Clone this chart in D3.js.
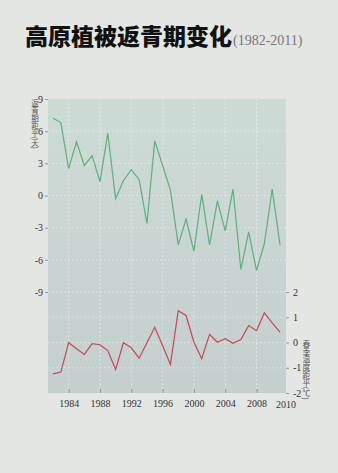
<!DOCTYPE html>
<html><head><meta charset="utf-8">
<script src="https://cdn.jsdelivr.net/npm/d3@7"></script>
<style>
html,body{margin:0;padding:0;background:#e4e6e3;}
svg{display:block;}
</style></head>
<body>
<script>
const years = d3.range(1982, 2012);
const greenupAnomaly = [7.2, 6.8, 2.5, 5.0, 2.8, 3.7, 1.3, 5.8, -0.3, 1.4, 2.4, 1.5, -2.6, 5.1, 2.8, 0.5, -4.6, -2.2, -5.2, 0.1, -4.6, -0.5, -3.3, 0.6, -6.9, -3.4, -7.0, -4.5, 0.6, -4.6];
const springTempAnomaly = [-1.24, -1.17, 0.0, -0.25, -0.47, -0.05, -0.09, -0.32, -1.07, -0.01, -0.21, -0.62, -0.01, 0.60, -0.12, -0.87, 1.26, 1.07, 0.01, -0.64, 0.32, 0.01, 0.15, -0.03, 0.12, 0.67, 0.47, 1.17, 0.78, 0.41];
const xTicks = [1984, 1988, 1992, 1996, 2000, 2004, 2008];
const leftTicks = [9, 6, 3, 0, -3, -6, -9];
const rightTicks = [2, 1, 0, -1, -2];
const titleMain = "高原植被返青期变化";
const titleSub = "(1982-2011)";
const leftLabel = "返青期距平(天)";
const rightLabel = "春季温度距平(℃)";

const W = 338, H = 473;
const plot = {l: 48, r: 286, t: 99, b: 393};

const svg = d3.select("body").append("svg").attr("width", W).attr("height", H);
const defs = svg.append("defs");
const grad = defs.append("linearGradient").attr("id", "bg").attr("x1", 0).attr("y1", 0).attr("x2", 0).attr("y2", 1);
grad.append("stop").attr("offset", "0%").attr("stop-color", "#cddbd5");
grad.append("stop").attr("offset", "100%").attr("stop-color", "#c4cfcf");

const x = d3.scaleLinear().domain([1982, 2011]).range([53, 280]);
const yL = d3.scaleLinear().domain([-9, 9]).range([292, 99]);
const yR = d3.scaleLinear().domain([-2, 2]).range([393, 292]);

svg.append("rect").attr("x", plot.l).attr("y", plot.t).attr("width", plot.r - plot.l).attr("height", plot.b - plot.t).attr("fill", "url(#bg)");

// grid
const grid = svg.append("g").attr("stroke", "#ffffff").attr("stroke-opacity", 0.55).attr("stroke-width", 0.7).attr("stroke-dasharray", "2,2");
grid.selectAll(".gl").data(leftTicks.filter(d => d < 9)).join("line").attr("class", "gl")
  .attr("x1", plot.l).attr("x2", plot.r).attr("y1", d => yL(d)).attr("y2", d => yL(d));
grid.selectAll(".gr").data(rightTicks.filter(d => d > -2 && d < 2)).join("line").attr("class", "gr")
  .attr("x1", plot.l).attr("x2", plot.r).attr("y1", d => yR(d)).attr("y2", d => yR(d));
grid.selectAll(".gx").data(xTicks).join("line").attr("class", "gx")
  .attr("x1", d => x(d)).attr("x2", d => x(d)).attr("y1", plot.t).attr("y2", plot.b);

// axes
const axisFont = "'Liberation Serif', 'DejaVu Serif', serif";
const fmt = d => String(d);
const gL = svg.append("g").attr("transform", `translate(${plot.l},0)`)
  .call(d3.axisLeft(yL).tickValues(leftTicks).tickFormat(fmt).tickSize(3).tickPadding(2));
const gR = svg.append("g").attr("transform", `translate(${plot.r},0)`)
  .call(d3.axisRight(yR).tickValues(rightTicks).tickFormat(fmt).tickSize(3).tickPadding(4));
const gX = svg.append("g").attr("transform", `translate(0,${plot.b})`)
  .call(d3.axisBottom(x).tickValues(xTicks).tickFormat(fmt).tickSize(-4).tickPadding(7));
[gL, gR, gX].forEach(g => {
  g.select(".domain").remove();
  g.selectAll("line").attr("stroke", "#777").attr("stroke-width", 0.7);
  g.selectAll("text").attr("font-family", axisFont).attr("font-size", 10).attr("fill", "#333");
});
gX.append("text").attr("x", plot.r).attr("y", 14.5).attr("text-anchor", "middle")
  .attr("font-family", axisFont).attr("font-size", 10).attr("fill", "#333").text("2010");

// lines
const lineG = d3.line().x((d, i) => x(years[i])).y(d => yL(d));
const lineR = d3.line().x((d, i) => x(years[i])).y(d => yR(d));
svg.append("path").datum(greenupAnomaly).attr("d", lineG).attr("fill", "none")
  .attr("stroke", "#5fb07a").attr("stroke-width", 1.2);
svg.append("path").datum(springTempAnomaly).attr("d", lineR).attr("fill", "none")
  .attr("stroke", "#c9474f").attr("stroke-width", 1.2);

// vertical axis titles
const cjk = "'Noto Sans CJK SC', sans-serif";
function verticalText(str, cx, top, size) {
  svg.append("text").attr("x", cx).attr("y", top)
    .attr("writing-mode", "vertical-rl")
    .style("writing-mode", "vertical-rl")
    .style("text-orientation", "mixed")
    .attr("font-family", cjk).attr("font-size", size).attr("fill", "#555").text(str);
}
verticalText(leftLabel, 35, 99, 7.5);
verticalText(rightLabel, 306.5, 340, 7.8);

// title
const t = svg.append("text").attr("x", 25).attr("y", 45);
t.append("tspan").attr("font-family", cjk).attr("font-weight", 900).attr("font-size", 23).attr("fill", "#111").text(titleMain);
t.append("tspan").attr("font-family", axisFont).attr("font-size", 14).attr("fill", "#777").attr("dx", 1).text(titleSub);
</script>
</body></html>
